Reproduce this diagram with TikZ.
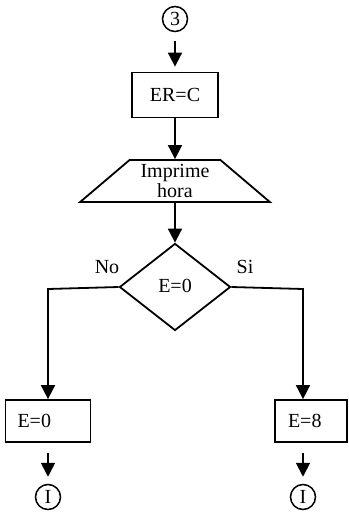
\documentclass[tikz,border=0pt]{standalone}
\usepackage{fontspec}
\setmainfont{Liberation Serif}
\usetikzlibrary{shapes.geometric,arrows.meta}

\begin{document}
\begin{tikzpicture}[x=1pt, y=-1pt,
    every node/.style={font=\fontsize{20}{19}\selectfont},
    proc/.style={draw, line width=1.8pt, rectangle, minimum height=42pt, inner sep=0pt},
    conn/.style={draw, line width=1.5pt, circle, minimum size=25pt, inner sep=0pt, font=\fontsize{20}{20}\selectfont},
    io/.style={draw, line width=1.8pt, trapezium, trapezium stretches=true, trapezium angle=41,
        minimum width=190pt, minimum height=42pt, inner sep=0pt, align=center, font=\fontsize{20}{17}\selectfont},
    dec/.style={draw, line width=1.8pt, diamond, minimum width=111pt, minimum height=87pt, inner sep=0pt},
    flow/.style={line width=1.8pt, -{Triangle[width=14pt,length=14pt]}}]

\useasboundingbox (0,0) rectangle (348,516);

% Inicio
\node[conn] (c3) at (175,19) {3};
\node[proc, minimum width=86pt, minimum height=45pt] (er) at (175,95) {ER=C};
\node[io] (imp) at (175,181) {Imprime\\hora};
\node[dec] (test) at (175,287) {\raisebox{3pt}{E=0}};

% Etiquetas
\node (no) at (107,267) {No};
\node (si) at (245,267) {Si};

% Ramas
\node[proc, text width=61pt, inner xsep=12pt, align=left] (bno) at (48,421) {E=0};
\node[proc, text width=46pt, inner xsep=13pt, align=left] (bsi) at (311,421) {E=8};
\node[conn] (ino) at (48,497) {I};
\node[conn] (isi) at (303,497) {I};
\coordinate (tno) at (48,289);
\coordinate (tsi) at (303,289);

% Flechas
\draw[flow, shorten <=9pt, shorten >=5pt] (c3) -- (er);
\draw[flow] (er) -- (imp);
\draw[flow] (imp) -- (test);
\draw[flow] (test.west) -- (tno) -- (tno |- bno.north);
\draw[flow] (test.east) -- (tsi) -- (tsi |- bsi.north);
\draw[flow, shorten <=10pt, shorten >=7pt] (bno) -- (ino);
\draw[flow, shorten <=10pt, shorten >=7pt] (bsi.south -| isi) -- (isi);

\end{tikzpicture}
\end{document}
